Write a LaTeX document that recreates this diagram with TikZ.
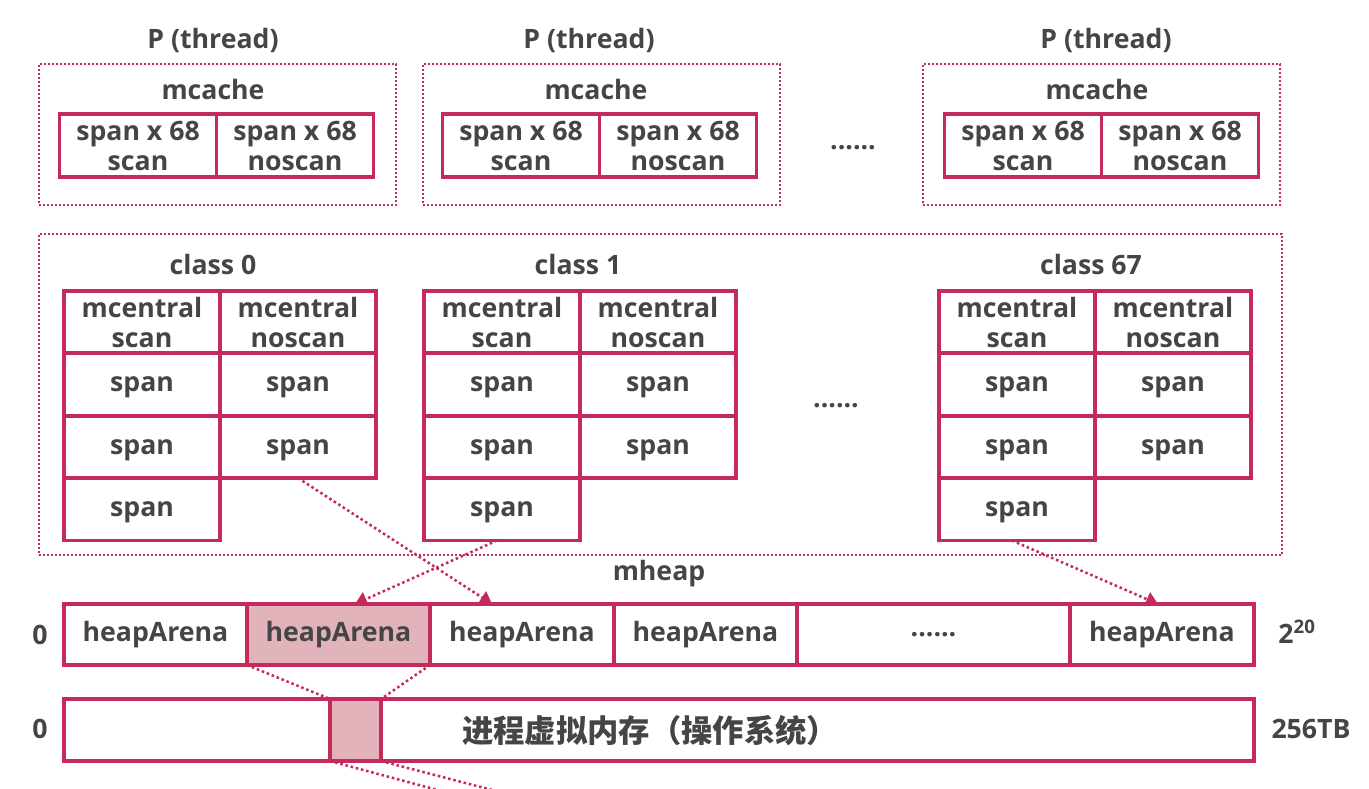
\documentclass[tikz,border=0pt]{standalone}
\usepackage{fontspec}
\setmainfont{Open Sans}
\newfontfamily\cjk{Noto Sans CJK SC}
\usepackage{tikz}
\usetikzlibrary{arrows.meta}
\definecolor{ink}{HTML}{454545}
\definecolor{rim}{HTML}{C42A5A}
\definecolor{shade}{HTML}{E2B3BB}

\begin{document}
\begin{tikzpicture}[
  x=0.75pt,y=-0.75pt,
  lbl/.style={text=ink,font=\fontsize{20}{22.5}\selectfont\bfseries,inner sep=0pt},
  cell/.style={draw=rim,line width=2.6pt,minimum width=117pt,minimum height=46.5pt,align=center,text=ink,font=\fontsize{20}{22.5}\selectfont\bfseries,inner sep=0pt,outer sep=0pt},
  spancell/.style={cell,text depth=0pt},
  group/.style={draw=rim,line width=1.6pt,dash pattern=on 1.6pt off 1.4pt,inner sep=0pt},
  link/.style={draw=rim,line width=1.9pt,dash pattern=on 1.9pt off 2.1pt},
  arr/.style={link,-{Triangle[length=9pt,width=11pt]}}
]
\useasboundingbox (0,0) rectangle (1369,788);
\node[lbl] (t1) at (213,40) {P (thread)};
\node[lbl] (t2) at (589,40) {P (thread)};
\node[lbl] (t3) at (1106,40) {P (thread)};
\node[group,minimum width=267.75pt,minimum height=105.75pt] (p1) at (217.5,134.5) {};
\node[group,minimum width=267.75pt,minimum height=105.75pt] (p2) at (601.5,134.5) {};
\node[group,minimum width=267.75pt,minimum height=105.75pt] (p3) at (1101.5,134.5) {};
\node[lbl] (mc1) at (213,90) {mcache};
\node[lbl] (mc2) at (596,90) {mcache};
\node[lbl] (mc3) at (1097,90) {mcache};
\node[cell,minimum width=117.75pt,minimum height=47.25pt] (mc1a) at (138,145.5) {span x 68\\scan};
\node[cell,minimum width=117.75pt,minimum height=47.25pt] (mc1b) at (295,145.5) {span x 68\\noscan};
\node[cell,minimum width=117.75pt,minimum height=47.25pt] (mc2a) at (521,145.5) {span x 68\\scan};
\node[cell,minimum width=117.75pt,minimum height=47.25pt] (mc2b) at (678,145.5) {span x 68\\noscan};
\node[cell,minimum width=117.75pt,minimum height=47.25pt] (mc3a) at (1023,145.5) {span x 68\\scan};
\node[cell,minimum width=117.75pt,minimum height=47.25pt] (mc3b) at (1180,145.5) {span x 68\\noscan};
\node[lbl] (dots1) at (853,148) {......};

\node[group,minimum width=932.25pt,minimum height=240.75pt] (cls) at (660.5,394.5) {};
\node[lbl] (k0) at (213,264) {class 0};
\node[lbl] (k1) at (578,264) {class 1};
\node[lbl] (k67) at (1091,264) {class 67};
\node[cell] (c0h1) at (142,322) {mcentral\\scan};
\node[cell] (c0h2) at (298,322) {mcentral\\noscan};
\node[spancell] (c0s1) at (142,384.5) {span};
\node[spancell] (c0n1) at (298,384.5) {span};
\node[spancell] (c0s2) at (142,447) {span};
\node[spancell] (c0n2) at (298,447) {span};
\node[spancell] (c0s3) at (142,509.5) {span};
\node[cell] (c1h1) at (502,322) {mcentral\\scan};
\node[cell] (c1h2) at (658,322) {mcentral\\noscan};
\node[spancell] (c1s1) at (502,384.5) {span};
\node[spancell] (c1n1) at (658,384.5) {span};
\node[spancell] (c1s2) at (502,447) {span};
\node[spancell] (c1n2) at (658,447) {span};
\node[spancell] (c1s3) at (502,509.5) {span};
\node[cell] (c67h1) at (1017,322) {mcentral\\scan};
\node[cell] (c67h2) at (1173,322) {mcentral\\noscan};
\node[spancell] (c67s1) at (1017,384.5) {span};
\node[spancell] (c67n1) at (1173,384.5) {span};
\node[spancell] (c67s2) at (1017,447) {span};
\node[spancell] (c67n2) at (1173,447) {span};
\node[spancell] (c67s3) at (1017,509.5) {span};
\node[lbl] (dots2) at (836,406) {......};

\node[lbl] (mheap) at (659,574) {mheap};
\node[cell,minimum width=137.25pt,minimum height=45.75pt] (ha1) at (155.5,634.5) {heapArena};
\node[cell,fill=shade,minimum width=137.25pt,minimum height=45.75pt] (ha2) at (338.5,634.5) {heapArena};
\node[cell,minimum width=138pt,minimum height=45.75pt] (ha3) at (522,634.5) {heapArena};
\node[cell,minimum width=137.25pt,minimum height=45.75pt] (ha4) at (705.5,634.5) {heapArena};
\node[cell,minimum width=204.75pt,minimum height=45.75pt] (ha5) at (933.5,634.5) {......};
\node[cell,minimum width=138pt,minimum height=45.75pt] (ha6) at (1162,634.5) {heapArena};
\node[lbl] (zero1) at (40,635) {0};
\node[lbl] (top1) at (1297,632) {2\textsuperscript{20}};

\node[cell,minimum width=199.5pt] (vm1) at (197,730) {};
\node[cell,fill=shade,minimum width=38.25pt] (vm2) at (355.5,730) {};
\node[cell,minimum width=654.75pt] (vm3) at (817.5,730) {};
\node[lbl,font=\cjk\fontsize{23.5}{26}\selectfont\bfseries] (vmtext) at (650,731) {进程虚拟内存（操作系统）};
\node[lbl] (zero2) at (40,729) {0};
\node[lbl] (top2) at (1311,729) {256TB};

\draw[arr] (c0n2.south) -- ([xshift=-22.5pt]ha3.north);
\draw[arr] ([xshift=-3.75pt]c1s3.south) -- ([xshift=12.4pt]ha2.north);
\draw[arr] ([xshift=-3.75pt]c67s3.south) -- ([xshift=-3pt]ha6.north);
\draw[link] (ha2.south west) -- (vm2.north west);
\draw[link] (ha2.south east) -- (vm2.north east);
\coordinate (cut1) at (445,792);
\coordinate (cut2) at (500,792);
\draw[link] (vm2.south west) -- (cut1);
\draw[link] (vm2.south east) -- (cut2);
\end{tikzpicture}
\end{document}
